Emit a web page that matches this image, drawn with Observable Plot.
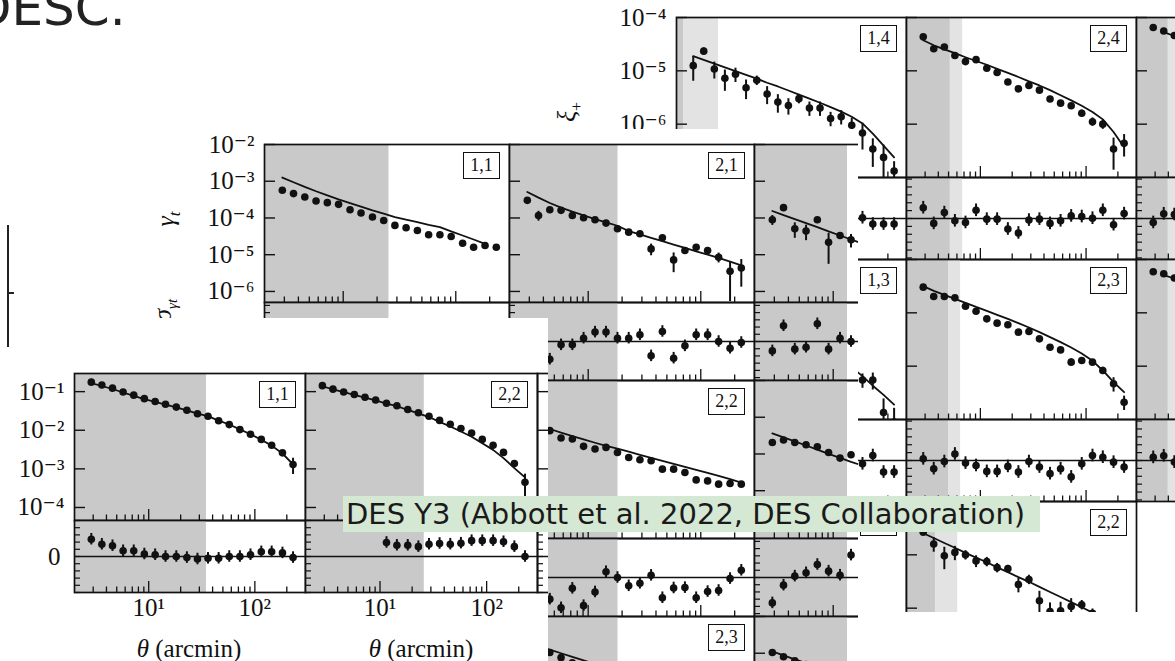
<!DOCTYPE html>
<html><head><meta charset="utf-8">
<script src="https://cdn.jsdelivr.net/npm/d3@7"></script>
<script src="https://cdn.jsdelivr.net/npm/@observablehq/plot@0.6"></script>
<style>
html,body{margin:0;padding:0;background:#fff;}
body{width:1175px;height:661px;overflow:hidden;position:relative;font-family:"Liberation Serif","DejaVu Serif",serif;}
.layer{position:absolute;overflow:hidden;background:#fff;}
.pan{position:absolute;line-height:0;}
.pan svg{overflow:visible;display:block;max-width:none !important;}
.lab{position:absolute;box-sizing:border-box;width:37px;height:27px;border:1.5px solid #111;background:#fff;
  font:18px "Liberation Serif","DejaVu Serif",serif;color:#111;text-align:center;line-height:24px;}
.rot{position:absolute;transform:translate(-50%,-50%) rotate(-90deg);white-space:nowrap;
  font:italic 26px "Liberation Serif","DejaVu Serif",serif;color:#111;}
.xt{position:absolute;transform:translate(-50%,-50%);white-space:nowrap;font:25px "Liberation Serif","DejaVu Serif",serif;color:#111;}
#desc{position:absolute;left:-27px;top:-17px;font:50px/50px "DejaVu Sans",sans-serif;color:#222;white-space:nowrap;}
#vline{position:absolute;left:7px;top:225px;width:2px;height:122px;background:#222;z-index:5;}
#vtick{position:absolute;left:8px;top:292px;width:6px;height:1.5px;background:#222;z-index:5;}
#des{position:absolute;left:343px;top:496px;width:697px;height:36px;background:#d5e8d4;color:#1a1a1a;
  font:29px/36px "DejaVu Sans",sans-serif;white-space:nowrap;padding-left:3px;box-sizing:border-box;z-index:10;}
</style></head><body>
<div id="desc">DESC.</div>
<div id="layerA" class="layer" style="left:540px;top:0;width:635px;height:612px;z-index:1"></div>
<div id="layerB" class="layer" style="left:150px;top:129px;width:708px;height:532px;z-index:2"></div>
<div id="layerC" class="layer" style="left:0;top:318px;width:548px;height:343px;z-index:3"></div>
<div id="vline"></div><div id="vtick"></div>
<div id="des">DES Y3 (Abbott et al. 2022, DES Collaboration)</div>
<script>
// ---------- shared axes ----------
const theta = [2.88, 3.62, 4.56, 5.74, 7.23, 9.10, 11.5, 14.4, 18.2, 22.9, 28.8, 36.2, 45.6, 57.4, 72.3, 91.0, 115, 144, 182, 229];
const xDomain = [2, 300];
const xMajor = [10, 100];
const xMinor = [3, 4, 5, 6, 7, 8, 9, 20, 30, 40, 50, 60, 70, 80, 90, 200];
const xTickLabels = ["10¹", "10²"];
const resTicks = [-5, -4, -3, -2, -1, 0, 1, 2, 3, 4, 5];
const resErr = [0.8, 0.8, 0.8, 0.8, 0.8, 0.8, 0.8, 0.8, 0.8, 0.8, 0.8, 0.8, 0.8, 0.8, 0.8, 0.8, 0.8, 0.8, 0.8, 0.8];

// ---------- figure A: cosmic shear xi+ ----------
const aDomain = [1e-7, 1e-4];
const aTicks = [1e-4, 1e-5, 1e-6];
const aTickLabels = ["10⁻⁴", "10⁻⁵", "10⁻⁶"];
const aResDomain = [-5.2, 5.2];

const a14Val = [1.25e-5, 2.34e-5, 1.08e-5, 7.24e-6, 8.63e-6, 4.81e-6, 6.64e-6, 3.69e-6, 2.59e-6, 2.24e-6, 3.01e-6, 2.0e-6, 2.0e-6, 1.28e-6, 1.38e-6, 9.55e-7, 6.82e-7, 3.43e-7, 2.38e-7, 1.32e-7];
const a14Err = [0.49, 0.15, 0.35, 0.43, 0.3, 0.4, 0.2, 0.37, 0.38, 0.34, 0.2, 0.3, 0.3, 0.3, 0.3, 0.35, 0.52, 0.55, 0.7, 0.5];
const a14Model = [1.88e-5, 1.60e-5, 1.36e-5, 1.16e-5, 9.86e-6, 8.39e-6, 7.14e-6, 5.98e-6, 5.09e-6, 4.28e-6, 3.58e-6, 3.01e-6, 2.52e-6, 2.08e-6, 1.72e-6, 1.38e-6, 1.03e-6, 6.64e-7, 3.97e-7, 2.38e-7];
const a14Res = [0.3, 1.2, -0.4, -0.8, -0.2, -1.0, 0.1, -0.9, -1.2, -1.3, -0.3, -0.7, -0.5, -0.9, -0.4, -0.6, 0.1, -0.7, -0.7, -0.7];
const a14Cut = [2.33, 5.0];

const a24Val = [4.34e-5, 2.59e-5, 2.79e-5, 1.94e-5, 1.49e-5, 1.62e-5, 1.12e-5, 9.29e-6, 6.17e-6, 4.59e-6, 5.32e-6, 4.34e-6, 2.96e-6, 2.48e-6, 2.21e-6, 1.60e-6, 1.11e-6, 1.0e-6, 3.43e-7, 4.40e-7];
const a24Err = [0.08, 0.12, 0.1, 0.12, 0.12, 0.1, 0.1, 0.1, 0.12, 0.12, 0.1, 0.1, 0.12, 0.12, 0.12, 0.15, 0.18, 0.2, 0.6, 0.45];
const a24Model = [3.74e-5, 3.01e-5, 2.52e-5, 2.14e-5, 1.80e-5, 1.53e-5, 1.30e-5, 1.09e-5, 9.16e-6, 7.67e-6, 6.35e-6, 5.32e-6, 4.34e-6, 3.48e-6, 2.79e-6, 2.21e-6, 1.69e-6, 1.23e-6, 7.14e-7, 3.69e-7];
const a24Res = [1.37, -0.62, 0.75, -0.29, -0.5, 1.04, -0.08, -0.08, -1.33, -1.83, -0.2, -0.08, -0.62, -0.29, 0.33, 0.25, 0.04, 1.04, -0.79, 0.62];
const a24Cut = [5.2, 6.8];

const a34Val = [6.5e-5, 5.6e-5, 4.6e-5, 3.8e-5, 3.2e-5, 2.7e-5, 2.2e-5, 1.8e-5, 1.5e-5, 1.2e-5, 9.8e-6, 8.0e-6, 6.5e-6, 5.2e-6, 4.1e-6, 3.2e-6, 2.4e-6, 1.7e-6, 1.1e-6, 6.0e-7];
const a34Err = [0.1, 0.1, 0.1, 0.1, 0.1, 0.1, 0.1, 0.1, 0.1, 0.1, 0.1, 0.1, 0.1, 0.1, 0.1, 0.1, 0.1, 0.1, 0.1, 0.1];
const a34Model = [null, 5.3e-5, 4.5e-5, 3.8e-5, 3.2e-5, 2.7e-5, 2.25e-5, 1.85e-5, 1.5e-5, 1.22e-5, 9.9e-6, 8.0e-6, 6.4e-6, 5.1e-6, 4.0e-6, 3.1e-6, 2.35e-6, 1.7e-6, 1.15e-6, 7.0e-7];
const a34Res = [-0.5, 0.6, 0.5, 0.2, -0.3, 0.1, 0.4, -0.2, 0.3, -0.4, 0.1, 0.2, -0.1, 0.5, -0.3, 0.2, 0.1, -0.4, 0.3, 0.0];
const a34Cut = [4.0, 5.5];

const a13Val = [2.7e-5, 2.2e-5, 1.8e-5, 1.5e-5, 1.2e-5, 1.05e-5, 8.0e-6, 7.0e-6, 5.3e-6, 4.6e-6, 3.4e-6, 3.0e-6, 2.2e-6, 1.9e-6, 1.3e-6, 9.0e-7, 5.5e-7, 5.5e-7, 1.35e-7, 9.0e-8];
const a13Err = [0.2, 0.2, 0.2, 0.2, 0.2, 0.2, 0.2, 0.2, 0.2, 0.2, 0.2, 0.2, 0.2, 0.2, 0.2, 0.3, 0.3, 0.35, 0.8, 0.8];
const a13Model = [2.5e-5, 2.1e-5, 1.75e-5, 1.45e-5, 1.2e-5, 1.0e-5, 8.3e-6, 6.8e-6, 5.5e-6, 4.5e-6, 3.6e-6, 2.9e-6, 2.3e-6, 1.8e-6, 1.35e-6, 9.5e-7, 6.5e-7, 4.3e-7, 2.9e-7, 1.9e-7];
const a13Res = [0.5, -0.3, 0.2, 0.4, -0.6, 0.3, -0.8, 0.5, -0.2, 0.6, -0.5, 0.4, -0.4, 0.3, -0.5, -0.2, -0.42, 0.63, -1.46, -1.46];
const a13Cut = [2.33, 5.0];

const a23Val = [3.03e-5, 2.02e-5, 2.02e-5, 1.91e-5, 1.33e-5, 1.07e-5, 7.71e-6, 6.40e-6, 5.96e-6, 4.34e-6, 4.47e-6, 3.25e-6, 2.27e-6, 2.02e-6, 1.19e-6, 1.28e-6, 1.19e-6, 8.30e-7, 4.67e-7, 2.11e-7];
const a23Err = [0.08, 0.1, 0.08, 0.1, 0.1, 0.1, 0.1, 0.1, 0.1, 0.1, 0.1, 0.1, 0.1, 0.1, 0.15, 0.12, 0.12, 0.15, 0.3, 0.3];
const a23Model = [3.16e-5, 2.58e-5, 2.17e-5, 1.83e-5, 1.54e-5, 1.29e-5, 1.09e-5, 9.16e-6, 7.71e-6, 6.40e-6, 5.31e-6, 4.34e-6, 3.50e-6, 2.82e-6, 2.24e-6, 1.73e-6, 1.26e-6, 8.30e-7, 5.01e-7, 3.25e-7];
const a23Res = [0.21, -1.04, -0.13, 0.83, -0.33, -0.63, -1.38, -1.38, -0.75, -1.46, -0.13, -0.83, -1.67, -1.04, -2.08, -0.42, 0.63, 0.42, -0.21, -0.83];
const a23Cut = [5.0, 6.5];

const a33Val = [5.9e-5, 5.4e-5, 4.5e-5, 3.7e-5, 3.1e-5, 2.6e-5, 2.1e-5, 1.7e-5, 1.4e-5, 1.15e-5, 9.3e-6, 7.5e-6, 6.0e-6, 4.8e-6, 3.8e-6, 2.9e-6, 2.2e-6, 1.6e-6, 1.0e-6, 5.5e-7];
const a33Err = [0.1, 0.1, 0.1, 0.1, 0.1, 0.1, 0.1, 0.1, 0.1, 0.1, 0.1, 0.1, 0.1, 0.1, 0.1, 0.1, 0.1, 0.1, 0.1, 0.1];
const a33Model = [null, 5.1e-5, 4.4e-5, 3.7e-5, 3.1e-5, 2.6e-5, 2.15e-5, 1.75e-5, 1.42e-5, 1.15e-5, 9.3e-6, 7.5e-6, 6.0e-6, 4.8e-6, 3.75e-6, 2.9e-6, 2.2e-6, 1.6e-6, 1.05e-6, 6.0e-7];
const a33Res = [0.4, 0.6, -0.2, 0.3, 0.1, -0.4, 0.2, 0.5, -0.1, 0.3, -0.2, 0.1, 0.4, -0.3, 0.2, 0.0, -0.1, 0.3, 0.2, -0.2];
const a33Cut = [4.0, 5.5];

const a12Cut = [2.33, 5.0];

const a22Val = [2.65e-5, 1.60e-5, 9.57e-6, 1.11e-5, 1.0e-5, 7.69e-6, 7.46e-6, 5.75e-6, 5.51e-6, 2.77e-6, 3.45e-6, 1.38e-6, 8.65e-7, 8.89e-7, 1.08e-6, 1.16e-6, 8.04e-7, 5.01e-7, 2.51e-7, 1.26e-7];
const a22Err = [0.1, 0.3, 0.45, 0.3, 0.2, 0.25, 0.2, 0.2, 0.15, 0.3, 0.2, 0.5, 0.45, 0.45, 0.4, 0.2, 0.2, 0.4, 0.5, 0.6];
const a22Model = [2.54e-5, 2.07e-5, 1.67e-5, 1.36e-5, 1.09e-5, 8.89e-6, 7.26e-6, 5.83e-6, 4.75e-6, 3.82e-6, 3.12e-6, 2.51e-6, 2.01e-6, 1.62e-6, 1.30e-6, 1.04e-6, 8.28e-7, 6.46e-7, 4.83e-7, 3.35e-7];
const a22Cut = [3.8, 6.1];

// ---------- figure B: galaxy-galaxy lensing gamma_t ----------
const bDomain = [5.0e-7, 1e-2];
const bTicks = [1e-2, 1e-3, 1e-4, 1e-5, 1e-6];
const bTickLabels = ["10⁻²", "10⁻³", "10⁻⁴", "10⁻⁵", "10⁻⁶"];
const bResDomain = [-5.4, 5.4];

const b11Val = [5.68e-4, 4.60e-4, 3.73e-4, 2.90e-4, 2.61e-4, 2.35e-4, 1.68e-4, 1.36e-4, 1.06e-4, 8.57e-5, 6.27e-5, 5.41e-5, 4.57e-5, 3.48e-5, 3.48e-5, 3.13e-5, 2.06e-5, 1.60e-5, 1.78e-5, 1.60e-5];
const b11Err = [0.05, 0.05, 0.05, 0.05, 0.05, 0.05, 0.05, 0.05, 0.05, 0.05, 0.05, 0.05, 0.06, 0.06, 0.06, 0.06, 0.07, 0.08, 0.08, 0.08];
const b11Model = [1.26e-3, 9.40e-4, 7.00e-4, 5.33e-4, 4.14e-4, 3.22e-4, 2.55e-4, 2.03e-4, 1.61e-4, 1.31e-4, 1.06e-4, 8.95e-5, 7.73e-5, 6.53e-5, 5.64e-5, 4.30e-5, 3.33e-5, 2.59e-5, 1.97e-5, null];
const b11Res = [-1.5, -1.8, -1.5, -1.2, -1.0, -0.8, -0.6, -0.5, -0.4, -0.3, -0.5, -0.4, -0.6, -0.9, -0.5, -0.6, -0.8, -1.0, -0.8, -0.5];
const b11Cut = [25.5];

const b21Val = [3.02e-4, 1.17e-4, 1.68e-4, 1.61e-4, 1.17e-4, 1.01e-4, 8.95e-5, 7.26e-5, 5.08e-5, 4.11e-5, 3.71e-5, 1.44e-5, 2.88e-5, 7.21e-6, 1.30e-5, 1.60e-5, 1.30e-5, 8.53e-6, 3.53e-6, 4.36e-6];
const b21Err = [0.08, 0.3, 0.08, 0.08, 0.08, 0.08, 0.08, 0.08, 0.08, 0.08, 0.1, 0.35, 0.1, 0.55, 0.12, 0.15, 0.15, 0.3, 0.85, 0.7];
const b21Model = [5.11e-4, 3.57e-4, 2.55e-4, 1.91e-4, 1.48e-4, 1.17e-4, 9.33e-5, 7.57e-5, 6.14e-5, 4.39e-5, 3.56e-5, 2.88e-5, 2.33e-5, 1.89e-5, 1.53e-5, 1.24e-5, 1.01e-5, 8.17e-6, 6.49e-6, 5.15e-6];
const b21Res = [-1.5, -2.8, -2.45, -0.46, -0.46, 0.46, 1.3, 1.3, 0.46, 0.46, 0.93, -1.99, 1.39, -2.31, -0.6, 0.93, 0.93, 0.0, -0.93, -0.14];
const b21Cut = [18.4];

const b31Val = [8.95e-5, 1.91e-4, 5.08e-5, 4.39e-5, 8.95e-5, 2.19e-5, 3.33e-5, 2.54e-5, 2.0e-5, 1.6e-5, 1.3e-5, 1.0e-5, 8.0e-6, 6.5e-6, 5.0e-6, 4.0e-6, 3.2e-6, 2.5e-6, 2.0e-6, 1.6e-6];
const b31Err = [0.3, 0.1, 0.45, 0.45, 0.1, 0.75, 0.2, 0.4, 0.2, 0.2, 0.2, 0.2, 0.2, 0.2, 0.2, 0.2, 0.2, 0.2, 0.2, 0.2];
const b31Model = [1.55e-4, 1.20e-4, 9.33e-5, 7.26e-5, 5.64e-5, 4.30e-5, 3.33e-5, 2.59e-5, 2.0e-5, 1.6e-5, 1.25e-5, 1.0e-5, 8.0e-6, 6.3e-6, 5.0e-6, 4.0e-6, 3.2e-6, 2.5e-6, 2.0e-6, 1.6e-6];
const b31Res = [-1.3, 2.18, -1.06, -0.79, 2.45, -1.06, 0.46, 0.0, 0.3, -0.2, 0.1, 0.5, -0.3, 0.2, 0.0, 0.4, -0.5, 0.2, 0.1, -0.2];
const b31Cut = [13.4];

const b22Val = [7.08e-4, 5.89e-4, 4.31e-4, 2.72e-4, 2.55e-4, 1.61e-4, 1.36e-4, 1.51e-4, 1.10e-4, 8.05e-5, 6.95e-5, 6.52e-5, 3.86e-5, 3.86e-5, 3.13e-5, 1.97e-5, 1.85e-5, 1.51e-5, 1.57e-5, 1.51e-5];
const b22Err = [0.06, 0.06, 0.06, 0.06, 0.06, 0.06, 0.06, 0.06, 0.06, 0.06, 0.06, 0.06, 0.06, 0.06, 0.06, 0.06, 0.06, 0.06, 0.06, 0.06];
const b22Model = [6.61e-4, 5.62e-4, 4.78e-4, 3.79e-4, 3.08e-4, 2.49e-4, 2.02e-4, 1.67e-4, 1.39e-4, 1.15e-4, 9.51e-5, 7.87e-5, 6.52e-5, 5.40e-5, 4.47e-5, 3.70e-5, 3.06e-5, 2.54e-5, 2.06e-5, 1.67e-5];
const b22Res = [-3.0, -3.5, -3.0, -4.2, -1.5, -3.9, -2.0, 0.8, 0.0, -1.15, -0.8, 0.3, -2.8, -1.45, -1.4, -2.8, -1.95, -1.8, -0.15, 1.0];
const b22Cut = [18.4];

const b32Val = [2.06e-4, 2.40e-4, 2.06e-4, 1.78e-4, 1.57e-4, 1.10e-4, 7.73e-5, 9.51e-5, 7.0e-5, 6.0e-5, 5.0e-5, 4.0e-5, 3.3e-5, 2.7e-5, 2.2e-5, 1.8e-5, 1.5e-5, 1.2e-5, 1.0e-5, 8.0e-6];
const b32Err = [0.08, 0.08, 0.08, 0.08, 0.08, 0.08, 0.08, 0.08, 0.1, 0.1, 0.1, 0.1, 0.1, 0.1, 0.1, 0.1, 0.1, 0.1, 0.1, 0.1];
const b32Model = [3.63e-4, 2.82e-4, 2.19e-4, 1.70e-4, 1.32e-4, 1.01e-4, 7.87e-5, 6.12e-5, 4.8e-5, 3.8e-5, 3.0e-5, 2.4e-5, 1.9e-5, 1.5e-5, 1.2e-5, 9.5e-6, 7.5e-6, 6.0e-6, 4.8e-6, 3.8e-6];
const b32Res = [-3.52, -1.06, 0.19, 0.65, 1.8, 0.88, 0.32, 3.1, 0.5, 0.2, -0.3, 0.1, 0.4, -0.2, 0.3, 0.0, -0.5, 0.2, 0.3, 0.1];
const b32Cut = [13.4];

const b23Val = [1.5e-3, 1.25e-3, 1.05e-3, 7.6e-4, 5.5e-4, 4.3e-4, 3.4e-4, 2.7e-4, 2.1e-4, 1.6e-4, 1.25e-4, 9.8e-5, 7.7e-5, 6.0e-5, 4.7e-5, 3.7e-5, 2.9e-5, 2.3e-5, 1.8e-5, 1.4e-5];
const b23Err = [0.06, 0.06, 0.06, 0.06, 0.06, 0.06, 0.06, 0.06, 0.06, 0.06, 0.06, 0.06, 0.06, 0.06, 0.06, 0.06, 0.06, 0.06, 0.06, 0.06];
const b23Model = [1.8e-3, 1.5e-3, 1.26e-3, 1.0e-3, 8.0e-4, 6.4e-4, 5.1e-4, 4.1e-4, 3.3e-4, 2.6e-4, 2.1e-4, 1.7e-4, 1.35e-4, 1.1e-4, 8.7e-5, 7.0e-5, 5.6e-5, 4.5e-5, 3.6e-5, 2.9e-5];
const b23Cut = [18.4];

const b33Val = [1.05e-3, 8.0e-4, 6.2e-4, 4.9e-4, 3.9e-4, 3.1e-4, 2.5e-4, 2.0e-4, 1.6e-4, 1.3e-4, 1.0e-4, 8.2e-5, 6.6e-5, 5.3e-5, 4.3e-5, 3.4e-5, 2.7e-5, 2.2e-5, 1.8e-5, 1.4e-5];
const b33Err = [0.06, 0.06, 0.06, 0.06, 0.06, 0.06, 0.06, 0.06, 0.06, 0.06, 0.06, 0.06, 0.06, 0.06, 0.06, 0.06, 0.06, 0.06, 0.06, 0.06];
const b33Model = [1.12e-3, 8.8e-4, 6.8e-4, 5.4e-4, 4.2e-4, 3.4e-4, 2.6e-4, 2.1e-4, 1.64e-4, 1.28e-4, 1.02e-4, 8.0e-5, 6.4e-5, 5.1e-5, 4.1e-5, 3.3e-5, 2.6e-5, 2.1e-5, 1.7e-5, 1.36e-5];
const b33Cut = [13.4];

// ---------- figure C: galaxy clustering w(theta) ----------
const cDomain = [4.6e-5, 0.295];
const cTicks = [1e-1, 1e-2, 1e-3, 1e-4];
const cTickLabels = ["10⁻¹", "10⁻²", "10⁻³", "10⁻⁴"];
const cResDomain = [-5, 5];

const c11Val = [0.176, 0.149, 0.123, 0.098, 0.081, 0.0658, 0.0556, 0.0471, 0.0398, 0.0331, 0.0267, 0.0231, 0.0176, 0.0140, 0.0104, 0.0079, 0.0058, 0.0041, 0.0026, 0.0013];
const c11Err = [0.03, 0.03, 0.03, 0.03, 0.03, 0.03, 0.03, 0.03, 0.03, 0.03, 0.03, 0.03, 0.04, 0.04, 0.05, 0.05, 0.06, 0.08, 0.1, 0.45];
const c11Model = [0.165, 0.14, 0.117, 0.095, 0.078, 0.064, 0.054, 0.046, 0.039, 0.0328, 0.027, 0.0232, 0.0178, 0.0141, 0.0105, 0.0079, 0.0057, 0.0040, 0.0025, 0.0013];
const c11Res = [2.4, 1.7, 1.5, 0.8, 0.8, 0.35, 0.25, 0.0, 0.0, -0.15, -0.35, -0.25, -0.25, 0.0, 0.0, 0.25, 0.65, 0.65, 0.5, -0.15];
const c11Cut = [35];

const c22Val = [0.143, 0.116, 0.098, 0.0845, 0.0716, 0.0605, 0.0501, 0.0433, 0.0344, 0.0285, 0.0231, 0.018, 0.0143, 0.0111, 0.00845, 0.0058, 0.0041, 0.00267, 0.00137, 0.00045];
const c22Err = [0.03, 0.03, 0.03, 0.03, 0.03, 0.03, 0.03, 0.03, 0.03, 0.03, 0.03, 0.03, 0.04, 0.04, 0.05, 0.05, 0.06, 0.08, 0.12, 0.62];
const c22Model = [0.138, 0.114, 0.097, 0.083, 0.070, 0.059, 0.049, 0.042, 0.0335, 0.0275, 0.022, 0.0165, 0.0125, 0.0093, 0.0068, 0.0046, 0.0031, 0.0019, 0.00105, 0.0006];
const c22Res = [null, null, null, null, null, null, 1.95, 1.56, 1.56, 1.37, 1.71, 1.81, 1.71, 1.85, 2.2, 2.2, 2.2, 2.05, 1.37, 0.0];
const c22Cut = [26];

// ---------- drawing ----------
const INK = "#111";
const DARK = "#c9c9c9";
const LIGHT = "#e3e3e3";
const SERIF = "'Liberation Serif','DejaVu Serif',serif";

function bands(cut, yd) {
  const m = [];
  if (cut && cut.length > 0) m.push(Plot.rect([cut], {x1: () => xDomain[0], x2: d => d[0], y1: () => yd[0], y2: () => yd[1], fill: DARK}));
  if (cut && cut.length > 1) m.push(Plot.rect([cut], {x1: d => d[0], x2: d => d[1], y1: () => yd[0], y2: () => yd[1], fill: LIGHT}));
  return m;
}
function xTickMarks(h) {
  return [
    Plot.ruleX(xMinor, {x: d => d, insetTop: h - 5.5, stroke: INK, strokeWidth: 1.3}),
    Plot.ruleX(xMajor, {x: d => d, insetTop: h - 11, stroke: INK, strokeWidth: 1.3})
  ];
}
function mainPlot(c) {
  const w = c.w, h = c.h, yd = c.yDomain;
  const pts = c.vals ? theta.map((t, i) => ({t, v: c.vals[i], e: c.errs[i]})).filter(d => d.v != null) : [];
  const mod = c.model ? theta.map((t, i) => ({t, m: c.model[i]})).filter(d => d.m != null) : [];
  const marks = [
    ...bands(c.cut, yd),
    Plot.line(mod, {x: "t", y: "m", stroke: INK, strokeWidth: 1.8, clip: true}),
    Plot.ruleX(pts, {x: "t", y1: d => Math.max(d.v * (1 - d.e), yd[0] * 0.1), y2: d => d.v * (1 + d.e), stroke: INK, strokeWidth: 2, clip: true}),
    Plot.dot(pts, {x: "t", y: "v", r: 3.8, fill: INK, stroke: null, clip: true}),
    Plot.ruleY(c.yTicks, {y: d => d, insetRight: w - 11, stroke: INK, strokeWidth: 1.4}),
    ...xTickMarks(h),
    Plot.frame({stroke: INK, strokeWidth: 1.7})
  ];
  if (c.yLabels) marks.push(Plot.text(c.yTicks, {y: d => d, text: (d, i) => c.yLabels[i], frameAnchor: "left", textAnchor: "end", dx: -10, fontSize: 25, fontFamily: SERIF, fill: INK}));
  return Plot.plot({width: w, height: h, margin: 0,
    x: {type: "log", domain: xDomain, axis: null},
    y: {type: "log", domain: yd, axis: null},
    style: {overflow: "visible", background: "transparent"}, marks});
}
function resPlot(c) {
  const w = c.w, h = c.hr, yd = c.resDomain;
  const pts = c.res ? theta.map((t, i) => ({t, r: c.res[i], e: resErr[i]})).filter(d => d.r != null) : [];
  const marks = [
    ...bands(c.cut, yd),
    Plot.ruleY([0], {stroke: INK, strokeWidth: 1.7}),
    Plot.ruleX(pts, {x: "t", y1: d => d.r - d.e, y2: d => d.r + d.e, stroke: INK, strokeWidth: 2, clip: true}),
    Plot.dot(pts, {x: "t", y: "r", r: 3.8, fill: INK, stroke: null, clip: true}),
    Plot.ruleY(resTicks, {y: d => d, insetRight: w - 6, stroke: INK, strokeWidth: 1.2}),
    ...xTickMarks(h),
    Plot.frame({stroke: INK, strokeWidth: 1.7})
  ];
  if (c.zeroLabel) marks.push(Plot.text([0], {y: d => d, text: () => "0", frameAnchor: "left", textAnchor: "end", dx: -14, fontSize: 25, fontFamily: SERIF, fill: INK}));
  if (c.xLabels) marks.push(Plot.text(xMajor, {x: d => d, text: (d, i) => xTickLabels[i], frameAnchor: "bottom", dy: 23, fontSize: 25, fontFamily: SERIF, fill: INK}));
  return Plot.plot({width: w, height: h, margin: 0,
    x: {type: "log", domain: xDomain, axis: null},
    y: {domain: yd, axis: null},
    style: {overflow: "visible", background: "transparent"}, marks});
}
function place(layer, node, x, y, w, h) {
  const d = document.createElement("div");
  d.className = "pan";
  d.style.left = x + "px"; d.style.top = y + "px"; d.style.width = w + "px"; d.style.height = h + "px";
  d.appendChild(node); layer.appendChild(d);
}
function panel(layer, c) {
  place(layer, mainPlot(c), c.x, c.y, c.w, c.h);
  if (c.hr) place(layer, resPlot(c), c.x, c.y + c.h, c.w, c.hr);
  if (c.label) {
    const b = document.createElement("div");
    b.className = "lab"; b.textContent = c.label;
    b.style.left = (c.x + c.w - 9 - 37) + "px"; b.style.top = (c.y + 8) + "px";
    layer.appendChild(b);
  }
}
function note(layer, cls, html, x, y) {
  const d = document.createElement("div");
  d.className = cls; d.innerHTML = html; d.style.left = x + "px"; d.style.top = y + "px";
  layer.appendChild(d);
}

// Layer A
const LA = document.getElementById("layerA");
const A = {w: 230, h: 160, hr: 82, yDomain: aDomain, yTicks: aTicks, resDomain: aResDomain};
panel(LA, {...A, x: 136, y: 17, vals: a14Val, errs: a14Err, model: a14Model, res: a14Res, cut: a14Cut, label: "1,4", yLabels: aTickLabels});
panel(LA, {...A, x: 366, y: 17, vals: a24Val, errs: a24Err, model: a24Model, res: a24Res, cut: a24Cut, label: "2,4"});
panel(LA, {...A, x: 596, y: 17, vals: a34Val, errs: a34Err, model: a34Model, res: a34Res, cut: a34Cut});
panel(LA, {...A, x: 136, y: 259, vals: a13Val, errs: a13Err, model: a13Model, res: a13Res, cut: a13Cut, label: "1,3"});
panel(LA, {...A, x: 366, y: 259, vals: a23Val, errs: a23Err, model: a23Model, res: a23Res, cut: a23Cut, label: "2,3"});
panel(LA, {...A, x: 596, y: 259, vals: a33Val, errs: a33Err, model: a33Model, res: a33Res, cut: a33Cut});
panel(LA, {...A, hr: 0, x: 136, y: 501, cut: a12Cut, label: "1,2"});
panel(LA, {...A, hr: 0, x: 366, y: 501, vals: a22Val, errs: a22Err, model: a22Model, cut: a22Cut, label: "2,2"});
note(LA, "rot", "ξ<sub style='font-size:16px;font-style:normal'>+</sub>", 29, 112);

// Layer B
const LB = document.getElementById("layerB");
const B = {w: 245, h: 158, hr: 78, yDomain: bDomain, yTicks: bTicks, resDomain: bResDomain};
panel(LB, {...B, x: 114, y: 15, vals: b11Val, errs: b11Err, model: b11Model, res: b11Res, cut: b11Cut, label: "1,1", yLabels: bTickLabels});
panel(LB, {...B, x: 359, y: 15, vals: b21Val, errs: b21Err, model: b21Model, res: b21Res, cut: b21Cut, label: "2,1"});
panel(LB, {...B, x: 604, y: 15, vals: b31Val, errs: b31Err, model: b31Model, res: b31Res, cut: b31Cut});
panel(LB, {...B, x: 359, y: 251, vals: b22Val, errs: b22Err, model: b22Model, res: b22Res, cut: b22Cut, label: "2,2"});
panel(LB, {...B, x: 604, y: 251, vals: b32Val, errs: b32Err, model: b32Model, res: b32Res, cut: b32Cut});
panel(LB, {...B, hr: 0, x: 359, y: 487, vals: b23Val, errs: b23Err, model: b23Model, cut: b23Cut, label: "2,3"});
panel(LB, {...B, hr: 0, x: 604, y: 487, vals: b33Val, errs: b33Err, model: b33Model, cut: b33Cut});
note(LB, "rot", "γ<sub style='font-size:17px'>t</sub>", 18, 90);
note(LB, "rot", "Δγ<sub style='font-size:17px'>t</sub>/σ<sub style='font-size:15px'>γt</sub>", 15, 200);

// Layer C
const LC = document.getElementById("layerC");
const C = {h: 147, hr: 72, yDomain: cDomain, yTicks: cTicks, resDomain: cResDomain};
panel(LC, {...C, w: 231, x: 74, y: 55, vals: c11Val, errs: c11Err, model: c11Model, res: c11Res, cut: c11Cut, label: "1,1", yLabels: cTickLabels, zeroLabel: true, xLabels: true});
panel(LC, {...C, w: 232, x: 305, y: 55, vals: c22Val, errs: c22Err, model: c22Model, res: c22Res, cut: c22Cut, label: "2,2", xLabels: true});
panel(LC, {...C, w: 232, x: 537, y: 55});
note(LC, "xt", "<i>θ</i> (arcmin)", 189, 331);
note(LC, "xt", "<i>θ</i> (arcmin)", 421, 331);
</script>
</body></html>
